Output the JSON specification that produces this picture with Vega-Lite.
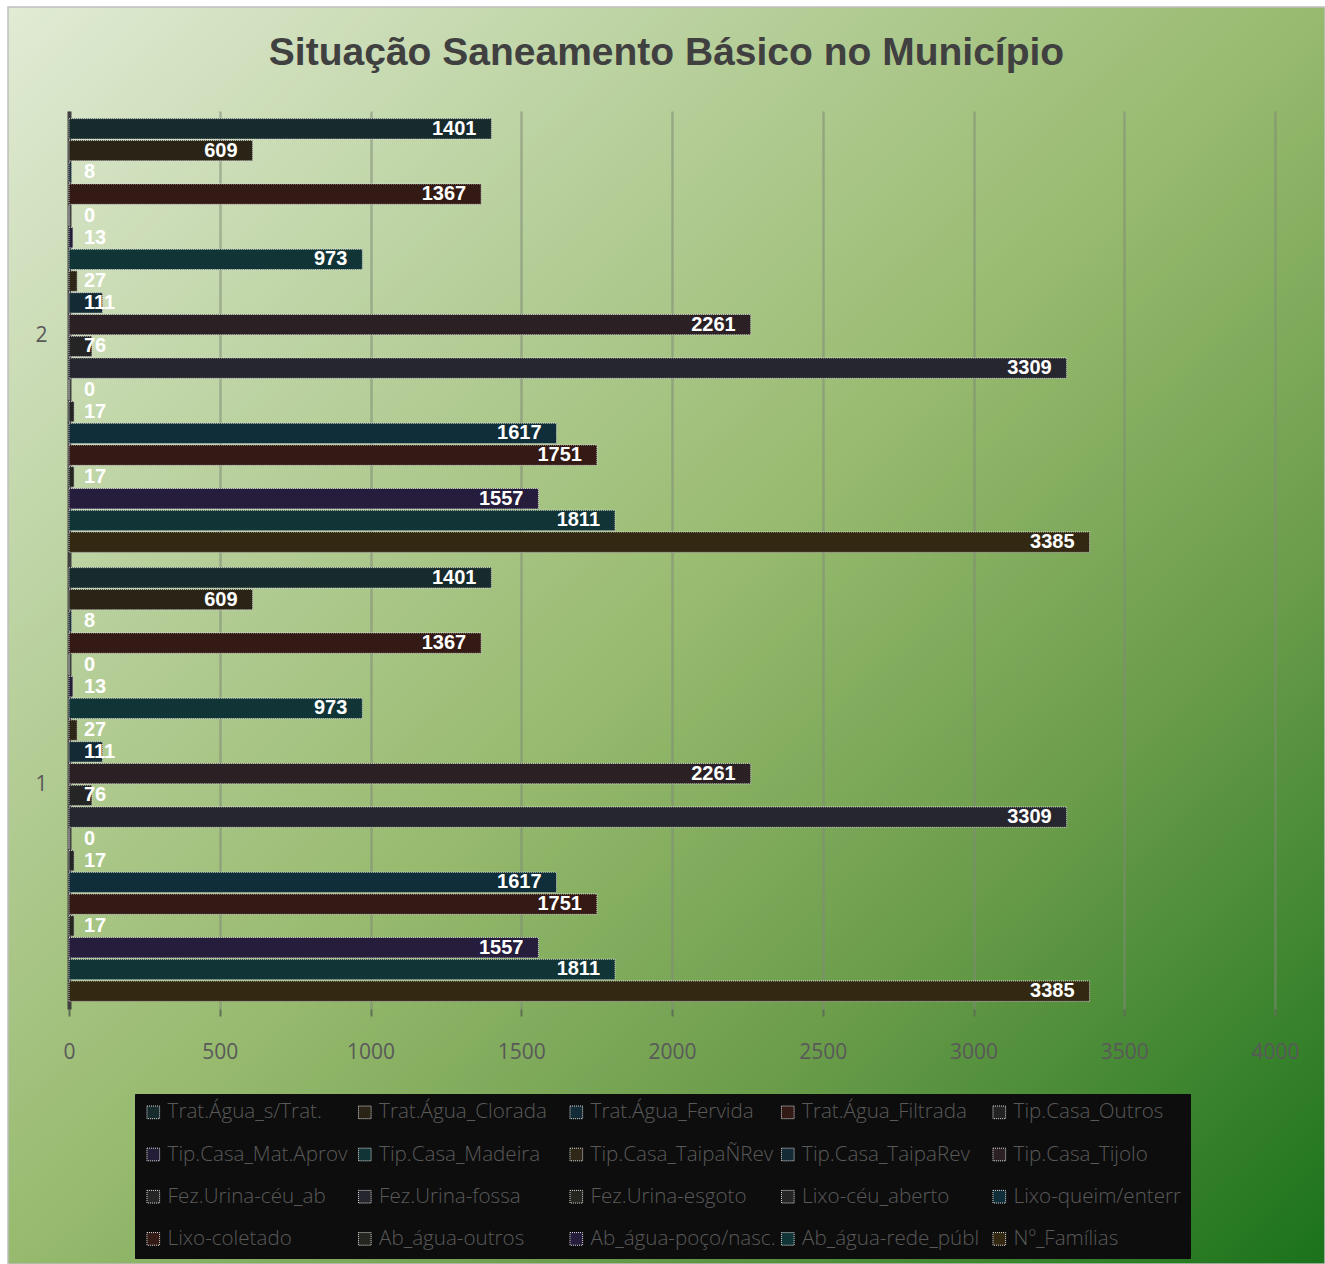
{
  "$schema": "https://vega.github.io/schema/vega-lite/v6.json",
  "width": 1317,
  "height": 1257,
  "autosize": {"type": "none"},
  "padding": {"left": 8, "top": 7, "right": 0, "bottom": 0},
  "background": "#ffffff",
  "title": {
    "text": "Situação Saneamento Básico no Município",
    "font": "Liberation Sans",
    "fontSize": 39,
    "fontWeight": "bold",
    "color": "#404040",
    "anchor": "middle",
    "frame": "group",
    "baseline": "alphabetic",
    "offset": -97
  },
  "config": {
    "view": {
      "fill": {
        "gradient": "linear",
        "x1": 0, "y1": 0, "x2": 1, "y2": 1,
        "stops": [
          {"offset": 0, "color": "#e1ebd5"},
          {"offset": 0.5, "color": "#97ba6e"},
          {"offset": 0.72, "color": "#6a9c4a"},
          {"offset": 1, "color": "#1a721a"}
        ]
      },
      "stroke": "#bfbfbf",
      "strokeWidth": 1.5
    },
    "legend": {
      "orient": "none",
      "legendX": 127,
      "legendY": 1087,
      "direction": "horizontal",
      "columns": 5,
      "gridAlign": "all",
      "fillColor": "#0d0d0d",
      "strokeColor": "#0d0d0d",
      "padding": 8,
      "rowPadding": 21.2,
      "columnPadding": 1.5,
      "symbolType": "square",
      "symbolSize": 160,
      "symbolStrokeColor": "#e0e0e0",
      "symbolStrokeWidth": 1,
      "symbolDash": [1, 1],
      "labelFont": "Open Sans",
      "labelFontSize": 20.6,
      "labelFontWeight": 300,
      "labelColor": "#595959",
      "labelOffset": 4,
      "labelLimit": 400
    }
  },
  "data": {
    "values": [
      {"cat": "2", "series": "Trat.Água_s/Trat.", "value": 1401},
      {"cat": "2", "series": "Trat.Água_Clorada", "value": 609},
      {"cat": "2", "series": "Trat.Água_Fervida", "value": 8},
      {"cat": "2", "series": "Trat.Água_Filtrada", "value": 1367},
      {"cat": "2", "series": "Tip.Casa_Outros", "value": 0},
      {"cat": "2", "series": "Tip.Casa_Mat.Aprov", "value": 13},
      {"cat": "2", "series": "Tip.Casa_Madeira", "value": 973},
      {"cat": "2", "series": "Tip.Casa_TaipaÑRev", "value": 27},
      {"cat": "2", "series": "Tip.Casa_TaipaRev", "value": 111},
      {"cat": "2", "series": "Tip.Casa_Tijolo", "value": 2261},
      {"cat": "2", "series": "Fez.Urina-céu_ab", "value": 76},
      {"cat": "2", "series": "Fez.Urina-fossa", "value": 3309},
      {"cat": "2", "series": "Fez.Urina-esgoto", "value": 0},
      {"cat": "2", "series": "Lixo-céu_aberto", "value": 17},
      {"cat": "2", "series": "Lixo-queim/enterr", "value": 1617},
      {"cat": "2", "series": "Lixo-coletado", "value": 1751},
      {"cat": "2", "series": "Ab_água-outros", "value": 17},
      {"cat": "2", "series": "Ab_água-poço/nasc.", "value": 1557},
      {"cat": "2", "series": "Ab_água-rede_públ", "value": 1811},
      {"cat": "2", "series": "Nº_Famílias", "value": 3385},
      {"cat": "1", "series": "Trat.Água_s/Trat.", "value": 1401},
      {"cat": "1", "series": "Trat.Água_Clorada", "value": 609},
      {"cat": "1", "series": "Trat.Água_Fervida", "value": 8},
      {"cat": "1", "series": "Trat.Água_Filtrada", "value": 1367},
      {"cat": "1", "series": "Tip.Casa_Outros", "value": 0},
      {"cat": "1", "series": "Tip.Casa_Mat.Aprov", "value": 13},
      {"cat": "1", "series": "Tip.Casa_Madeira", "value": 973},
      {"cat": "1", "series": "Tip.Casa_TaipaÑRev", "value": 27},
      {"cat": "1", "series": "Tip.Casa_TaipaRev", "value": 111},
      {"cat": "1", "series": "Tip.Casa_Tijolo", "value": 2261},
      {"cat": "1", "series": "Fez.Urina-céu_ab", "value": 76},
      {"cat": "1", "series": "Fez.Urina-fossa", "value": 3309},
      {"cat": "1", "series": "Fez.Urina-esgoto", "value": 0},
      {"cat": "1", "series": "Lixo-céu_aberto", "value": 17},
      {"cat": "1", "series": "Lixo-queim/enterr", "value": 1617},
      {"cat": "1", "series": "Lixo-coletado", "value": 1751},
      {"cat": "1", "series": "Ab_água-outros", "value": 17},
      {"cat": "1", "series": "Ab_água-poço/nasc.", "value": 1557},
      {"cat": "1", "series": "Ab_água-rede_públ", "value": 1811},
      {"cat": "1", "series": "Nº_Famílias", "value": 3385}
    ]
  },
  "encoding": {
    "y": {
      "field": "cat",
      "type": "nominal",
      "scale": {"domain": ["2", "1"], "range": [104, 1002], "paddingInner": 0, "paddingOuter": 0},
      "axis": {
        "title": null,
        "orient": "left",
        "offset": -61,
        "domain": true,
        "domainColor": "#404040",
        "domainWidth": 4,
        "ticks": false,
        "grid": false,
        "labelPadding": 22,
        "labelAngle": 0,
        "labelFont": "Open Sans",
        "labelFontSize": 21,
        "labelColor": "#595959"
      }
    },
    "yOffset": {
      "field": "series",
      "type": "nominal",
      "scale": {
        "domain": ["Trat.Água_s/Trat.", "Trat.Água_Clorada", "Trat.Água_Fervida", "Trat.Água_Filtrada", "Tip.Casa_Outros", "Tip.Casa_Mat.Aprov", "Tip.Casa_Madeira", "Tip.Casa_TaipaÑRev", "Tip.Casa_TaipaRev", "Tip.Casa_Tijolo", "Fez.Urina-céu_ab", "Fez.Urina-fossa", "Fez.Urina-esgoto", "Lixo-céu_aberto", "Lixo-queim/enterr", "Lixo-coletado", "Ab_água-outros", "Ab_água-poço/nasc.", "Ab_água-rede_públ", "Nº_Famílias"],
        "paddingInner": 0.06,
        "paddingOuter": 0.35
      }
    }
  },
  "layer": [
    {
      "mark": {"type": "bar", "stroke": "#d4d4d4", "strokeWidth": 1, "strokeDash": [1, 1]},
      "encoding": {
        "x": {
          "field": "value",
          "type": "quantitative",
          "stack": null,
          "scale": {"domain": [0, 4000], "range": [61, 1267], "nice": false, "zero": true},
          "axis": {
            "title": null,
            "orient": "top",
            "offset": -1002,
            "values": [0, 500, 1000, 1500, 2000, 2500, 3000, 3500, 4000],
            "format": "d",
            "domain": false,
            "grid": true,
            "gridColor": "#808a78",
            "gridOpacity": 0.55,
            "gridWidth": 2.5,
            "ticks": true,
            "tickSize": -7,
            "tickWidth": 2,
            "tickColor": "#5f6f55",
            "labelBaseline": "top",
            "labelPadding": -25.5,
            "labelFlush": false,
            "labelFont": "Open Sans",
            "labelFontSize": 21,
            "labelColor": "#595959"
          }
        },
        "x2": {"datum": 0},
        "color": {
          "field": "series",
          "type": "nominal",
          "scale": {
            "domain": ["Trat.Água_s/Trat.", "Trat.Água_Clorada", "Trat.Água_Fervida", "Trat.Água_Filtrada", "Tip.Casa_Outros", "Tip.Casa_Mat.Aprov", "Tip.Casa_Madeira", "Tip.Casa_TaipaÑRev", "Tip.Casa_TaipaRev", "Tip.Casa_Tijolo", "Fez.Urina-céu_ab", "Fez.Urina-fossa", "Fez.Urina-esgoto", "Lixo-céu_aberto", "Lixo-queim/enterr", "Lixo-coletado", "Ab_água-outros", "Ab_água-poço/nasc.", "Ab_água-rede_públ", "Nº_Famílias"],
            "range": ["#172a2c", "#2a2417", "#132b36", "#341a14", "#232323", "#241d37", "#113537", "#2e2617", "#142b35", "#2b2024", "#252525", "#26262e", "#262620", "#252525", "#0f2e39", "#341a14", "#262620", "#261c3c", "#113537", "#332812"]
          },
          "legend": {"title": null}
        }
      }
    },
    {
      "transform": [{"filter": "datum.value >= 200"}],
      "mark": {"type": "text", "align": "right", "baseline": "middle", "dx": -15, "font": "Liberation Sans", "fontSize": 20, "fontWeight": "bold", "color": "#ffffff"},
      "encoding": {
        "x": {"field": "value", "type": "quantitative"},
        "text": {"field": "value", "type": "quantitative"}
      }
    },
    {
      "transform": [{"filter": "datum.value < 200"}],
      "mark": {"type": "text", "align": "left", "baseline": "middle", "dx": 15, "font": "Liberation Sans", "fontSize": 20, "fontWeight": "bold", "color": "#ffffff"},
      "encoding": {
        "x": {"datum": 0, "type": "quantitative"},
        "text": {"field": "value", "type": "quantitative"}
      }
    }
  ]
}
